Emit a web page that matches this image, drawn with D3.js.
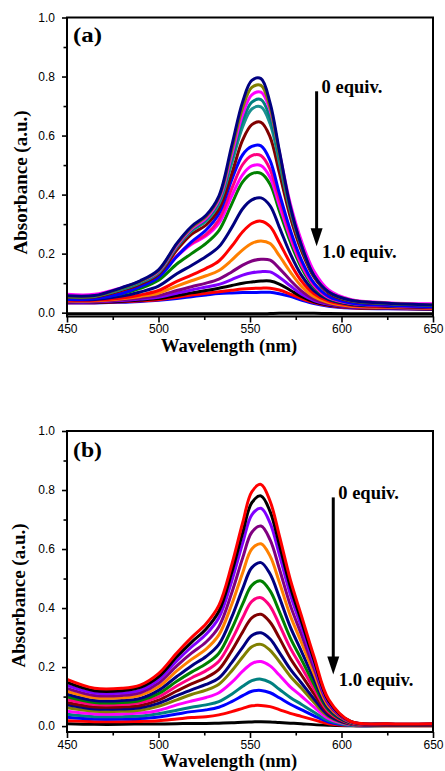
<!DOCTYPE html>
<html>
<head>
<meta charset="utf-8">
<script src="https://cdn.jsdelivr.net/npm/d3@7"></script>
<style>
  body { margin: 0; background: #fff; }
</style>
</head>
<body>
<div id="chart"></div>
<script>
// longueurs d'onde communes (nm)
const wavelengths = [450, 465, 480, 490, 500, 510, 518, 526, 533, 540, 546, 551, 556, 561, 566, 572, 578, 585, 593, 605, 625, 650];

const xMajor = [450, 500, 550, 600, 650];
const xMinor = [475, 525, 575, 625];
const yMajor = [0, 0.2, 0.4, 0.6, 0.8, 1.0];
const yMinor = [0.1, 0.3, 0.5, 0.7, 0.9];

// panneau (a) : de 0 equiv. (en haut) a 1.0 equiv. (en bas)
const colorsA = ["#000080", "#808000", "#FF00FF", "#008080", "#1A9090", "#800000", "#0000FF", "#FF0080", "#FF00FF",
  "#008000", "#000080", "#FF0000", "#FF8000", "#800080", "#8000FF", "#000000", "#FF0000", "#0000FF", "#000000"];
const spectraA = [
  [.057, .058, .085, .108, .145, .235, .292, .330, .395, .565, .715, .787, .793, .710, .550, .360, .230, .125, .070, .042, .032, .026],
  [.055, .056, .083, .106, .142, .232, .288, .326, .390, .550, .695, .763, .770, .695, .540, .355, .228, .125, .070, .042, .032, .026],
  [.062, .062, .085, .106, .140, .228, .284, .320, .383, .535, .672, .738, .747, .685, .545, .370, .245, .140, .077, .045, .034, .030],
  [.055, .056, .081, .103, .138, .225, .280, .315, .376, .520, .650, .713, .722, .660, .525, .355, .232, .130, .072, .042, .032, .027],
  [.054, .055, .079, .101, .135, .222, .276, .310, .368, .505, .630, .690, .697, .640, .510, .345, .225, .127, .070, .041, .031, .026],
  [.052, .053, .076, .097, .130, .212, .265, .297, .350, .470, .585, .637, .645, .595, .475, .325, .212, .120, .066, .039, .030, .025],
  [.045, .047, .065, .088, .120, .190, .240, .280, .335, .450, .535, .563, .565, .515, .405, .280, .180, .100, .055, .033, .025, .020],
  [.050, .051, .070, .090, .122, .193, .235, .265, .315, .420, .502, .532, .532, .485, .385, .268, .172, .096, .053, .032, .024, .020],
  [.056, .055, .072, .092, .124, .190, .232, .260, .303, .395, .468, .497, .498, .458, .365, .255, .164, .092, .051, .032, .025, .020],
  [.050, .050, .064, .082, .110, .165, .200, .235, .278, .368, .443, .471, .472, .435, .345, .240, .154, .087, .049, .030, .024, .020],
  [.045, .045, .056, .070, .090, .132, .160, .190, .223, .288, .352, .382, .389, .362, .290, .200, .128, .074, .044, .028, .022, .018],
  [.042, .042, .050, .060, .075, .106, .127, .150, .175, .225, .274, .302, .310, .292, .238, .168, .108, .064, .039, .025, .020, .016],
  [.040, .040, .047, .055, .066, .090, .108, .125, .143, .178, .213, .235, .243, .234, .193, .138, .090, .054, .034, .022, .018, .015],
  [.038, .038, .044, .050, .058, .075, .088, .100, .114, .138, .161, .175, .181, .178, .150, .110, .074, .046, .030, .020, .017, .014],
  [.036, .036, .041, .046, .052, .066, .077, .087, .096, .112, .127, .135, .139, .138, .120, .091, .063, .041, .028, .019, .016, .013],
  [.035, .035, .039, .043, .048, .058, .067, .075, .083, .092, .100, .104, .107, .107, .097, .076, .055, .037, .026, .018, .015, .012],
  [.034, .034, .037, .040, .044, .052, .060, .066, .071, .076, .080, .082, .083, .083, .077, .063, .048, .034, .024, .017, .014, .012],
  [.033, .033, .035, .038, .042, .048, .054, .060, .065, .067, .068, .068, .069, .069, .064, .055, .043, .031, .022, .016, .013, .011],
  [-.004, -.004, -.004, -.004, -.004, -.004, -.004, -.004, -.004, -.004, -.004, -.004, -.004, -.003, -.002, -.002, -.002, -.002, -.003, -.004, -.004, -.004]
];

// panneau (b)
const colorsB = ["#FF0000", "#000000", "#8000FF", "#800080", "#FF8000", "#000080", "#008000", "#FF0080",
  "#800000", "#000080", "#808000", "#FF00FF", "#008080", "#0000FF", "#FF0000", "#000000"];
const spectraB = [
  [.158, .128, .128, .139, .178, .248, .300, .347, .409, .546, .689, .794, .819, .762, .646, .497, .376, .235, .090, .016, .008, .008],
  [.148, .120, .120, .131, .167, .235, .284, .329, .389, .520, .655, .757, .780, .727, .615, .473, .358, .224, .085, .016, .007, .007],
  [.138, .112, .112, .122, .157, .221, .268, .311, .367, .491, .620, .716, .738, .688, .582, .447, .338, .212, .080, .015, .007, .007],
  [.128, .104, .104, .113, .145, .204, .247, .285, .337, .451, .570, .657, .678, .631, .534, .410, .312, .195, .074, .014, .006, .006],
  [.118, .096, .096, .104, .133, .187, .226, .261, .309, .412, .520, .600, .618, .576, .488, .375, .285, .178, .067, .013, .006, .006],
  [.108, .087, .087, .094, .121, .168, .204, .236, .277, .369, .466, .537, .554, .515, .437, .336, .255, .159, .060, .011, .005, .005],
  [.099, .080, .080, .087, .110, .152, .183, .211, .247, .329, .414, .477, .492, .458, .389, .299, .227, .142, .054, .010, .005, .005],
  [.090, .073, .073, .079, .099, .136, .163, .188, .220, .292, .367, .423, .435, .406, .344, .265, .201, .126, .048, .009, .005, .005],
  [.080, .065, .065, .070, .088, .119, .143, .164, .192, .255, .319, .367, .379, .352, .299, .230, .174, .109, .043, .008, .004, .004],
  [.072, .058, .058, .062, .077, .103, .123, .141, .163, .215, .267, .307, .316, .295, .250, .193, .147, .092, .036, .007, .004, .004],
  [.062, .050, .050, .054, .067, .089, .107, .122, .142, .187, .234, .269, .277, .257, .219, .169, .129, .080, .032, .006, .003, .003],
  [.050, .041, .041, .044, .053, .072, .085, .097, .113, .148, .186, .212, .219, .204, .173, .133, .102, .064, .025, .005, .003, .003],
  [.040, .032, .032, .034, .042, .054, .064, .072, .083, .108, .135, .154, .159, .148, .125, .097, .074, .047, .019, .003, .002, .002],
  [.030, .024, .024, .026, .031, .041, .049, .055, .064, .083, .103, .118, .121, .113, .096, .074, .056, .035, .014, .003, .002, .002],
  [.018, .015, .015, .016, .018, .024, .029, .032, .038, .049, .060, .069, .070, .066, .056, .043, .033, .021, .008, .002, .001, .001],
  [.008, .006, .006, .007, .007, .008, .009, .009, .010, .011, .013, .014, .015, .014, .012, .010, .008, .005, .003, .001, .001, .001]
];

const width = 445;
const height = 771;
const serif = "'Liberation Serif', 'Times New Roman', serif";
const sans = "'Liberation Sans', Arial, sans-serif";

const svg = d3.select("#chart")
  .append("svg")
  .attr("width", width)
  .attr("height", height);

function drawPanel(p) {
  const x = d3.scaleLinear().domain([450, 650]).range([67, 433]);
  const y = d3.scaleLinear().domain(p.yDomain).range([p.bottom, p.top]);
  const g = svg.append("g");

  const line = d3.line()
    .x((d, i) => x(wavelengths[i]))
    .y(d => y(d))
    .curve(d3.curveCatmullRom.alpha(0.5));

  // courbes : la premiere (0 equiv.) dessinee en dernier
  const series = p.spectra.map((s, i) => ({s: s, c: p.colors[i]})).reverse();
  g.append("g")
    .selectAll("path")
    .data(series)
    .join("path")
    .attr("d", d => line(d.s))
    .attr("fill", "none")
    .attr("stroke", d => d.c)
    .attr("stroke-width", 3)
    .attr("stroke-linejoin", "round");

  // axes
  g.append("g").attr("transform", "translate(0," + p.bottom + ")")
    .call(d3.axisBottom(x).tickValues(xMajor).tickSize(6).tickPadding(2).tickSizeOuter(0).tickFormat(d3.format("d")));
  g.append("g").attr("transform", "translate(0," + p.bottom + ")")
    .call(d3.axisBottom(x).tickValues(xMinor).tickSize(3.5).tickSizeOuter(0).tickFormat(""));
  g.append("g").attr("transform", "translate(67,0)")
    .call(d3.axisLeft(y).tickValues(yMajor).tickSize(5).tickPadding(7).tickSizeOuter(0).tickFormat(d3.format(".1f")));
  g.append("g").attr("transform", "translate(67,0)")
    .call(d3.axisLeft(y).tickValues(yMinor).tickSize(3.5).tickSizeOuter(0).tickFormat(""));

  g.selectAll(".domain").remove();
  g.selectAll(".tick line").attr("stroke", "#000").attr("stroke-width", 1.6);
  g.selectAll(".tick text")
    .attr("fill", "#000")
    .style("font-family", sans)
    .style("font-size", "12px");

  // cadre
  g.append("rect")
    .attr("x", 67).attr("y", p.top)
    .attr("width", 433 - 67).attr("height", p.bottom - p.top)
    .attr("fill", "none").attr("stroke", "#000").attr("stroke-width", 2);

  // titres des axes
  g.append("text")
    .attr("x", 229).attr("y", p.bottom + 35)
    .attr("text-anchor", "middle")
    .style("font-family", serif).style("font-weight", "bold").style("font-size", "18.5px")
    .text("Wavelength (nm)");
  g.append("text")
    .attr("transform", "translate(" + p.yTitleX + "," + p.yTitleY + ") rotate(-90)")
    .attr("text-anchor", "middle")
    .style("font-family", serif).style("font-weight", "bold").style("font-size", "19px")
    .text("Absorbance (a.u.)");

  // etiquette (a)/(b)
  g.append("text")
    .attr("x", 73).attr("y", p.labelY)
    .attr("textLength", 29).attr("lengthAdjust", "spacingAndGlyphs")
    .style("font-family", serif).style("font-weight", "bold").style("font-size", "20px")
    .text(p.label);

  // fleche
  const ax = x(p.arrowX);
  const y0 = y(p.arrowFrom);
  const y1 = y(p.arrowTo);
  g.append("line")
    .attr("x1", ax).attr("x2", ax)
    .attr("y1", y0).attr("y2", y1 - 16)
    .attr("stroke", "#000").attr("stroke-width", 3);
  g.append("path")
    .attr("d", "M" + (ax - 6) + "," + (y1 - 18) + "L" + (ax + 6) + "," + (y1 - 18) + "L" + ax + "," + y1 + "Z")
    .attr("fill", "#000");

  g.append("text")
    .attr("x", ax + 5).attr("y", y0 + 2)
    .style("font-family", serif).style("font-weight", "bold").style("font-size", "18.5px")
    .text("0 equiv.");
  g.append("text")
    .attr("x", ax + 5.5).attr("y", y1 + 12)
    .style("font-family", serif).style("font-weight", "bold").style("font-size", "18.5px")
    .text("1.0 equiv.");
}

drawPanel({
  top: 17.5, bottom: 316.5, yDomain: [-0.013, 1.0],
  spectra: spectraA, colors: colorsA,
  label: "(a)", labelY: 41.5,
  yTitleX: 27, yTitleY: 182.5,
  arrowX: 586.4, arrowFrom: 0.75, arrowTo: 0.225
});

drawPanel({
  top: 431, bottom: 732, yDomain: [-0.02, 1.0],
  spectra: spectraB, colors: colorsB,
  label: "(b)", labelY: 456.5,
  yTitleX: 25, yTitleY: 595.5,
  arrowX: 595.5, arrowFrom: 0.775, arrowTo: 0.175
});
</script>
</body>
</html>
